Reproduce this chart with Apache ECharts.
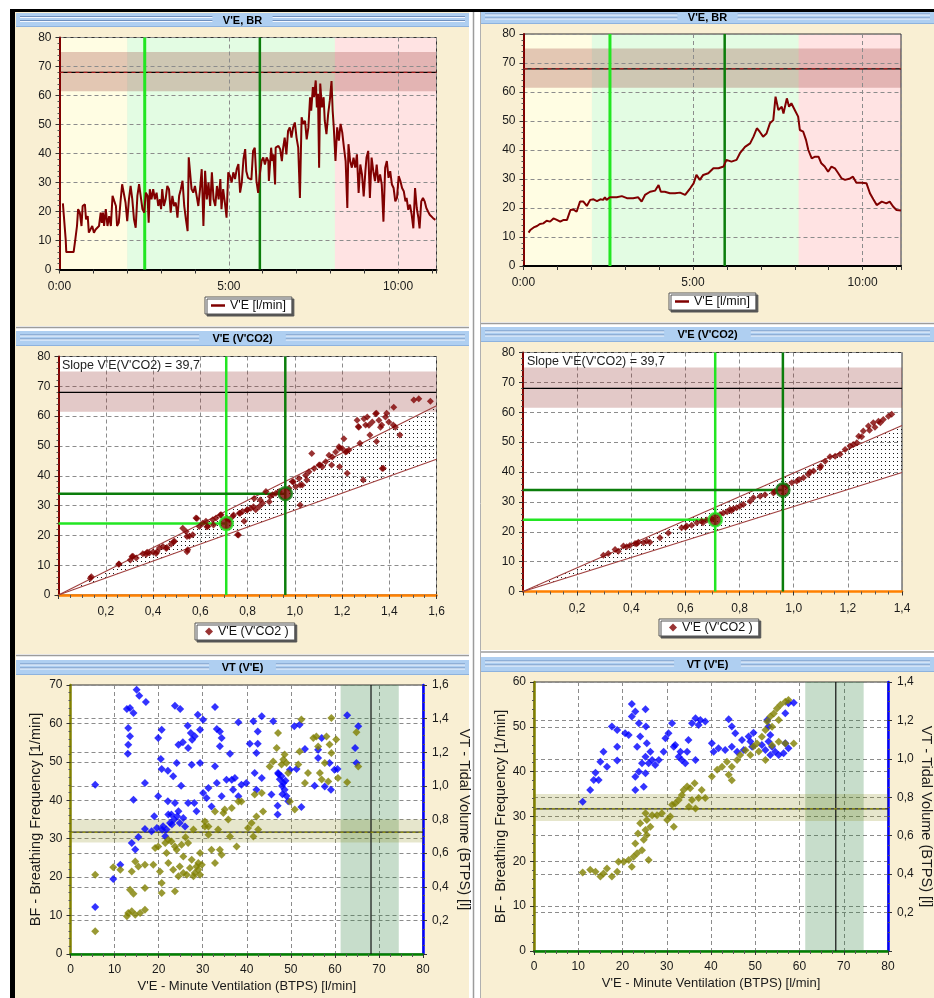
<!DOCTYPE html>
<html><head><meta charset="utf-8">
<script src="https://cdn.jsdelivr.net/npm/echarts/dist/echarts.min.js"></script>
<style>html,body{margin:0;padding:0;background:#fff}#c{width:934px;height:998px}</style>
</head><body><div id="c"></div>
<script>
// ================= DATA =================
// Panel 1: V'E over time (seconds)
const veTimeL = [[6,22.8],[11,10.3],[12,6.0],[25,6.0],[28,10.3],[31,15.0],[33,20.8],[36,19.6],[39,15.0],[41,21.9],[45,22.5],[47,17.3],[50,18.4],[52,12.7],[55,13.2],[58,15.0],[61,12.7],[64,13.8],[67,13.2],[70,15.0],[73,19.6],[75,16.1],[77,19.6],[79,15.0],[82,20.8],[85,15.0],[88,18.4],[91,15.0],[94,25.4],[97,26.0],[100,21.9],[102,15.0],[105,16.1],[108,23.1],[111,29.4],[114,28.8],[117,23.1],[120,16.7],[123,24.2],[126,28.8],[129,24.2],[132,17.3],[135,14.4],[138,25.4],[141,29.4],[144,28.8],[147,20.8],[150,19.6],[153,26.5],[156,25.4],[158,16.1],[160,27.7],[163,24.2],[166,27.7],[169,24.2],[172,26.5],[175,21.9],[178,24.2],[180,20.8],[182,27.7],[185,21.9],[188,24.2],[191,28.8],[194,27.7],[197,19.6],[200,25.4],[203,21.9],[206,23.1],[209,17.9],[212,25.4],[215,27.7],[218,30.6],[221,21.9],[224,17.3],[227,13.2],[229,38.7],[232,38.1],[234,27.7],[237,26.5],[240,28.8],[243,25.4],[246,21.9],[249,27.7],[252,34.6],[255,15.0],[258,34.0],[261,24.2],[264,30.0],[267,21.9],[270,33.5],[273,24.2],[276,21.9],[279,28.8],[282,24.2],[285,31.2],[287,20.8],[290,27.7],[293,23.1],[296,17.9],[299,33.5],[302,32.3],[305,30.0],[308,33.5],[311,31.2],[314,34.6],[317,36.4],[320,26.5],[323,30.0],[326,38.1],[329,41.5],
[331,33.9],[334,31.6],[337,32.2],[340,31.0],[343,40.9],[346,42.0],[349,30.5],[352,26.4],[355,32.8],[358,37.4],[361,38.6],[364,36.2],[367,38.6],[370,37.4],[371,30.5],[375,42.0],[377,37.4],[379,39.7],[382,29.3],[383,42.0],[388,42.6],[391,41.5],[394,37.4],[396,41.5],[399,45.5],[402,39.7],[405,47.8],[408,49.0],[411,45.5],[414,49.0],[417,50.7],[420,45.5],[423,42.0],[426,24.7],[429,52.5],[432,50.2],[435,51.3],[438,44.9],[441,49.0],[444,59.4],[446,54.8],[449,62.9],[451,59.4],[454,65.2],[456,55.9],[458,60.6],[460,35.1],[462,64.1],[465,55.9],[468,59.4],[470,51.3],[473,46.7],[476,53.6],[479,58.3],[482,65.0],[484,54.8],[486,49.0],[489,37.4],[492,49.0],[495,44.4],[498,50.2],[501,47.3],[504,42.0],[507,37.4],[510,21.2],[512,43.2],[515,37.4],[518,35.1],[521,38.6],[524,35.1],[527,39.7],[530,26.4],[533,36.2],[536,32.8],[539,25.2],[542,33.9],[544,38.6],[547,40.9],[550,24.7],[553,38.6],[556,33.9],[559,30.5],[562,36.2],[565,29.9],[568,32.8],[571,29.3],[574,16.5],[577,35.1],[580,37.4],[583,31.6],[586,33.9],[589,29.3],[592,28.1],[595,23.5],[598,24.7],[601,32.2],[604,30.5],[607,28.1],[610,27.0],[613,23.5],[615,24.7],[618,20.6],[621,22.4],[624,18.9],[627,14.2],[630,28.1],[633,21.2],[636,17.7],[638,14.2],[641,23.5],[644,24.7],[647,23.5],[650,21.2],[653,20.0],[656,18.9],[659,18.3],[662,17.7],[666,17.1]];
const veTimeR = [[9,11.5],[12,12.4],[18,13.3],[24,13.8],[29,14.5],[35,14.7],[41,15.6],[47,15.3],[53,16.4],[59,15.9],[65,15.3],[71,15.9],[77,15.9],[83,19.3],[88,19.5],[94,18.7],[100,22.2],[106,22.2],[112,20.7],[118,22.8],[124,23.0],[130,22.4],[136,23.0],[141,22.8],[144,23.7],[147,22.8],[153,23.7],[165,23.7],[174,24.1],[183,23.4],[194,23.4],[203,23.7],[209,22.2],[215,24.5],[224,25.6],[233,26.0],[239,27.9],[243,25.6],[250,25.6],[259,25.1],[268,25.1],[277,25.3],[286,24.5],[295,26.8],[301,28.5],[306,31.4],[312,29.7],[318,31.4],[327,32.0],[336,33.7],[345,33.7],[354,34.3],[359,36.6],[368,36.0],[377,36.6],[383,38.9],[392,41.1],[401,42.3],[407,44.6],[413,47.5],[418,46.3],[424,44.6],[430,45.7],[436,49.2],[442,50.3],[446,58.4],[451,53.8],[457,54.9],[460,52.6],[466,57.8],[470,54.9],[474,56.1],[480,53.8],[486,51.5],[489,46.9],[495,46.3],[500,43.4],[504,40.0],[510,37.1],[516,37.7],[522,37.7],[527,35.4],[533,34.3],[539,32.5],[545,34.3],[551,33.7],[557,32.0],[563,30.2],[569,29.7],[578,30.2],[583,30.8],[589,28.7],[598,28.7],[607,28.5],[613,25.1],[619,23.0],[625,21.0],[634,22.2],[642,21.6],[648,22.2],[654,20.5],[660,19.3],[668,19.1]];
const timeMax = 668;
const timeTicks = 300;
const veMin = 0, veMax = 80;
const zonesL = [[0,120],[120,488],[488,668]];
const zonesR = [[0,121],[121,487],[487,668]];
const zoneColors = ['#FFFDE3','#E3FCE3','#FFE3E3'];
const vtTimesL = [151, 355];
const vtTimesR = [153, 356];
const veBand = [61.5, 75];
const veRef = 68;

// Panel 2: V'E vs V'CO2
const slopeText = "Slope V'E(V'CO2) = 39,7";
const veVco2L = [[0.139,6.1],[0.135,5.6],[0.256,10.4],[0.255,10.3],[0.304,11.7],[0.311,12.9],[0.315,13.0],[0.329,12.4],[0.357,13.8],[0.371,13.6],[0.375,14.3],[0.385,14.1],[0.400,14.4],[0.413,13.9],[0.417,14.5],[0.427,15.8],[0.442,16.3],[0.456,15.6],[0.459,15.9],[0.477,17.1],[0.487,17.9],[0.491,18.0],[0.526,22.4],[0.540,21.3],[0.544,19.6],[0.544,14.5],[0.547,15.2],[0.554,19.7],[0.568,20.2],[0.582,25.8],[0.586,25.7],[0.596,23.0],[0.610,24.1],[0.624,24.7],[0.628,22.9],[0.632,23.0],[0.653,25.2],[0.656,23.5],[0.667,25.8],[0.685,26.8],[0.688,26.9],[0.713,25.7],[0.723,25.2],[0.737,26.3],[0.741,26.8],[0.758,20.2],[0.762,20.1],[0.765,27.4],[0.769,27.4],[0.779,28.0],[0.786,24.7],[0.797,28.5],[0.800,28.6],[0.814,29.1],[0.825,29.6],[0.828,32.4],[0.835,28.6],[0.850,29.7],[0.854,31.9],[0.864,30.8],[0.878,34.7],[0.892,31.3],[0.896,33.0],[0.906,33.6],[0.920,34.1],[0.934,34.7],[0.976,35.8],[0.990,38.0],[0.994,38.0],[1.004,36.3],[1.018,39.1],[1.023,36.9],[1.023,30.2],[1.032,36.9],[1.046,40.2],[1.051,38.6],[1.060,41.3],[1.072,47.5],[1.082,42.4],[1.103,43.6],[1.107,43.6],[1.117,43.0],[1.131,44.7],[1.145,46.9],[1.156,43.6],[1.159,46.3],[1.173,48.0],[1.187,49.7],[1.190,43.0],[1.190,49.2],[1.201,49.1],[1.208,52.4],[1.215,48.0],[1.220,48.1],[1.222,40.8],[1.229,48.6],[1.264,58.6],[1.269,56.5],[1.271,56.3],[1.276,50.9],[1.290,38.6],[1.293,59.1],[1.300,57.0],[1.307,59.7],[1.314,56.9],[1.318,53.7],[1.328,58.0],[1.342,60.8],[1.346,51.5],[1.346,61.0],[1.356,58.6],[1.363,56.3],[1.368,57.0],[1.370,42.4],[1.375,42.5],[1.384,59.7],[1.389,61.0],[1.398,58.0],[1.417,57.0],[1.419,63.0],[1.426,56.3],[1.445,53.7],[1.504,65.4],[1.525,65.8],[1.574,65.0]];
const veVco2R = [[0.297,12.1],[0.315,12.7],[0.340,14.1],[0.352,13.5],[0.371,15.2],[0.383,15.0],[0.395,15.4],[0.414,16.1],[0.420,16.0],[0.426,16.5],[0.445,16.3],[0.457,16.9],[0.469,16.5],[0.506,18.0],[0.537,19.6],[0.586,21.3],[0.600,21.5],[0.605,21.9],[0.623,22.2],[0.642,23.0],[0.660,23.5],[0.665,23.0],[0.679,23.9],[0.697,24.3],[0.728,25.8],[0.740,26.3],[0.754,26.7],[0.765,27.5],[0.770,27.0],[0.777,27.7],[0.789,28.0],[0.802,28.6],[0.814,29.1],[0.839,30.2],[0.851,31.4],[0.876,31.9],[0.894,32.4],[0.925,33.0],[0.930,33.5],[0.974,35.3],[0.993,36.4],[1.011,36.9],[1.020,37.5],[1.036,38.1],[1.054,39.2],[1.060,40.0],[1.073,40.3],[1.097,41.4],[1.100,42.0],[1.116,43.6],[1.134,45.1],[1.153,45.3],[1.171,45.9],[1.190,47.5],[1.208,48.7],[1.220,49.2],[1.233,49.8],[1.240,52.0],[1.251,51.8],[1.257,53.7],[1.276,55.4],[1.280,54.0],[1.294,56.5],[1.300,55.0],[1.313,57.0],[1.320,56.5],[1.331,57.6],[1.350,58.7],[1.362,59.3]];
const vco2MaxL = 1.6, vco2MaxR = 1.4;
const upperLineL = [[0,0],[1.6,63.5]];
const lowerLineL = [[0,0],[1.6,45.5]];
const upperLineR = [[0,0],[1.4,55.6]];
const lowerLineR = [[0,0],[1.4,39.8]];
const thresholdsL = [[0.71,24],[0.96,34]];
const thresholdsR = [[0.71,24],[0.96,34]];

// Panel 3: BF and VT vs V'E
const bfL = [[5.6,20.6],[5.6,5.9],[9.7,22.6],[11.3,21.9],[12.8,9.8],[13.1,10.7],[13.9,11.1],[14.7,10.2],[15.8,10.7],[16.9,11.5],[13.5,16.7],[14.3,15.7],[13.9,21.5],[14.7,24.1],[15.4,22.8],[16.9,23.2],[16.9,17.2],[18.8,23.2],[19.2,27.6],[19.9,28.0],[20.3,21.5],[20.7,18.5],[20.7,15.9],[21.5,28.9],[21.8,26.3],[22.2,23.7],[22.2,29.7],[22.9,29.3],[23.3,21.9],[23.7,16.3],[23.7,28.0],[24.1,27.1],[24.5,20.2],[24.8,22.8],[25.2,28.4],[25.6,25.4],[25.6,21.1],[26.1,30.4],[26.4,20.6],[26.7,28.9],[27.1,22.4],[27.5,24.5],[27.9,32.4],[27.9,20.2],[28.2,21.1],[28.6,22.8],[29.0,21.9],[29.0,23.7],[29.4,26.3],[29.4,20.6],[29.8,23.2],[30.5,33.2],[30.5,34.5],[31.3,31.0],[31.3,33.2],[32.0,27.1],[32.8,23.7],[32.8,37.1],[33.5,32.4],[33.9,27.1],[34.3,25.8],[34.7,36.7],[35.0,37.6],[35.8,35.0],[36.6,38.0],[36.2,30.6],[37.7,28.0],[38.1,39.7],[38.8,39.7],[40.3,32.8],[41.1,34.1],[41.5,30.6],[41.8,41.5],[42.2,35.8],[42.6,32.4],[43.4,41.9],[43.7,37.1],[45.2,48.8],[46.0,50.1],[46.8,53.6],[47.1,57.5],[47.9,49.3],[48.3,50.6],[48.6,51.9],[49.0,49.7],[49.4,47.1],[49.8,39.7],[50.9,37.6],[51.7,49.3],[52.4,61.0],[52.0,52.7],[53.2,44.5],[53.9,47.1],[55.1,56.2],[55.8,56.6],[56.2,54.0],[56.6,47.1],[57.0,45.4],[57.7,49.7],[58.1,56.6],[58.5,44.9],[58.8,54.5],[59.2,61.4],[59.2,52.3],[60.3,55.8],[60.7,45.8],[62.8,44.7],[64.9,57.7],[65.3,48.8]];
const vtL = [[5.6,1.007],[5.6,0.28],[9.7,0.446],[11.3,0.531],[12.8,1.457],[13.5,1.463],[14.3,1.433],[13.1,1.344],[13.5,1.295],[13.1,1.245],[13.0,1.191],[15.0,1.572],[15.6,1.536],[17.1,1.499],[16.9,1.017],[14.3,0.918],[13.9,0.66],[14.7,0.621],[15.4,0.696],[19.0,0.819],[16.9,0.743],[18.4,0.73],[19.6,0.749],[19.9,1.285],[20.7,1.334],[20.5,1.16],[20.7,1.1],[22.1,1.09],[23.3,1.057],[19.9,0.938],[22.1,0.908],[20.8,0.739],[21.0,0.76],[21.5,0.7],[21.8,0.74],[22.2,0.829],[22.6,0.779],[22.9,0.829],[23.0,0.77],[23.5,0.8],[24.2,0.82],[23.7,1.477],[24.9,1.457],[24.5,1.245],[25.5,1.259],[24.1,1.136],[25.1,1.001],[23.7,0.898],[24.5,0.849],[25.6,0.809],[24.8,0.779],[26.0,0.759],[26.6,1.358],[26.7,1.225],[27.3,1.314],[27.6,1.275],[28.2,1.295],[28.9,1.423],[29.4,1.334],[30.1,1.394],[27.5,1.126],[29.4,1.136],[26.7,0.898],[28.1,0.898],[28.6,0.849],[30.1,0.958],[31.3,0.987],[30.9,0.928],[32.0,0.878],[32.8,1.469],[33.2,1.338],[33.9,1.324],[34.3,1.285],[33.9,1.235],[32.8,1.116],[33.2,1.017],[34.3,0.938],[35.4,1.037],[36.2,1.191],[36.6,1.037],[37.3,1.047],[38.1,1.378],[36.9,0.977],[38.1,0.938],[38.8,1.007],[39.9,1.017],[40.7,1.251],[41.5,1.384],[41.8,1.077],[42.2,1.195],[42.5,1.251],[42.5,1.324],[43.4,1.414],[42.2,0.977],[43.4,1.047],[45.6,0.948],[46.0,1.384],[47.1,1.077],[47.2,1.07],[47.5,1.04],[47.0,0.882],[47.0,0.829],[47.9,1.057],[48.0,1.0],[48.1,0.95],[48.3,1.017],[48.6,0.977],[48.8,1.03],[49.0,0.94],[49.4,0.908],[49.8,1.096],[50.8,1.354],[51.3,1.1],[52.0,1.364],[52.4,0.874],[53.2,1.219],[55.4,1.001],[56.2,1.166],[56.2,1.215],[57.0,1.285],[57.7,0.997],[58.8,1.136],[59.1,0.977],[59.9,1.096],[60.6,1.1],[62.8,1.42],[64.6,1.225],[64.9,1.136],[65.3,1.354]];
const bfR = [[11.0,17.5],[12.7,18.1],[13.9,17.7],[15.0,16.6],[15.7,17.3],[16.5,18.4],[17.6,16.6],[18.8,17.7],[19.1,19.9],[20.3,19.9],[21.4,20.3],[22.1,18.8],[22.5,21.0],[23.3,21.8],[22.9,24.0],[23.5,26.2],[24.0,28.5],[24.4,22.5],[24.8,24.8],[25.2,27.0],[25.5,29.2],[25.2,30.7],[25.9,20.3],[25.5,25.9],[26.3,27.7],[26.7,30.3],[27.8,30.3],[28.9,30.7],[30.1,29.2],[30.8,30.0],[31.6,27.7],[31.2,32.6],[31.9,32.9],[32.7,33.7],[33.4,34.8],[33.8,35.9],[34.6,36.7],[35.3,36.3],[36.3,37.4],[35.7,33.7],[35.0,32.2],[36.5,31.8],[37.2,34.1],[37.9,35.9],[38.7,34.1],[40.2,38.9],[41.4,40.4],[42.5,41.1],[43.6,42.2],[44.0,39.3],[44.7,38.1],[44.7,41.1],[45.9,42.6],[46.6,43.7],[47.8,44.8],[48.9,43.7],[49.6,45.6],[50.4,46.3],[51.5,47.8],[52.3,49.3],[52.7,51.2],[53.4,52.3],[54.2,53.0],[54.9,54.1],[55.7,54.9],[56.8,55.6],[57.5,56.0],[53.8,45.9],[55.3,46.7],[56.8,46.3],[58.7,46.3],[52.3,42.6],[50.8,44.5],[53.8,50.0],[55.3,51.5]];
const vtR = [[11.0,0.777],[12.7,0.838],[13.5,0.89],[14.6,0.89],[13.9,0.928],[15.0,0.985],[15.7,1.037],[16.5,0.959],[17.6,1.168],[18.8,1.15],[18.8,1.063],[18.8,0.991],[20.6,1.133],[21.4,1.124],[22.1,1.286],[22.1,1.22],[22.9,1.246],[23.7,1.185],[24.0,1.116],[23.3,1.063],[22.9,0.907],[22.9,0.838],[23.7,0.933],[24.4,0.977],[25.2,1.258],[25.3,1.168],[25.5,1.081],[25.2,1.011],[25.2,0.925],[24.8,0.855],[25.9,0.977],[26.3,1.037],[26.7,0.994],[27.4,0.968],[28.2,0.994],[29.3,1.037],[29.7,1.107],[30.4,1.133],[31.2,1.185],[31.6,1.063],[31.9,1.072],[32.7,1.011],[33.1,1.037],[33.4,0.994],[34.2,0.977],[34.6,1.037],[34.9,1.098],[35.7,1.185],[36.5,1.211],[36.5,0.994],[37.2,1.176],[37.6,1.202],[38.7,1.194],[40.2,1.081],[40.6,1.037],[41.7,1.055],[43.2,1.046],[44.0,1.206],[44.7,1.168],[44.7,1.063],[45.5,1.133],[45.9,1.037],[47.0,1.098],[47.4,1.046],[48.5,1.116],[48.9,1.09],[49.3,1.063],[49.6,1.136],[51.5,1.072],[52.3,1.046],[53.0,1.09],[53.4,1.124],[53.4,1.02],[53.8,1.063],[54.5,1.037],[55.3,1.02],[56.4,1.029],[56.8,1.237],[57.5,1.289],[58.7,1.292],[57.5,1.055],[56.8,1.081],[52.7,1.202],[53.0,1.168]];
const veMaxBottom = 80;
const bfMaxL = 70, bfMaxR = 60;
const vtMaxL = 1.6, vtMaxR = 1.4;
const veBandBottom = [61.3, 74.5];
const veRefBottom = 68.2;
const bfBand = [29, 35];
const bfRef = 31.7;

const titles = ["V'E, BR", "V'E (V'CO2)", "VT (V'E)"];
const legendLine = "V'E [l/min]";
const legendScatter = "V'E (V'CO2 )";
const xNameBottom = "V'E - Minute Ventilation (BTPS) [l/min]";
const yNameBF = "BF - Breathing Frequency [1/min]";
const yNameVT = "VT - Tidal Volume (BTPS) [l]";

// ================= STYLE / LAYOUT =================
const FONT = 'Liberation Sans';
const BEIGE = '#F9EFD3';
const DARKRED = '#800000';
const BRIGHTGREEN = '#22E622';
const DARKGREEN = '#0B7D0B';
const OLIVE = '#808000';
const BLUE = '#0000FF';
const G = [
  {left:59.5, top:37.5, width:377, height:232},
  {left:523.5, top:34, width:377.5, height:232},
  {left:58.5, top:356.5, width:378, height:238.5},
  {left:523, top:352.5, width:379, height:239},
  {left:70.5, top:685, width:352.5, height:269},
  {left:534, top:682, width:354, height:269}
];
const split = {show:true, lineStyle:{color:'#8c8c8c', width:1, type:[4,3]}};
const lbl = (extra) => Object.assign({color:'#1a1a1a', fontSize:12, fontFamily:FONT}, extra||{});
const comma = v => v === 0 ? '0' : v.toFixed(1).replace('.', ',');
const mmss = v => Math.floor(v/60) + ':' + ('0' + Math.round(v % 60)).slice(-2);

// dot pattern for slope area
const pc = document.createElement('canvas'); pc.width = 4; pc.height = 4;
const pctx = pc.getContext('2d'); pctx.fillStyle = '#1a1a1a'; pctx.fillRect(1,1,1,1);
const dotPattern = {image: pc, repeat: 'repeat'};

// ================= HELPERS =================
function rectSeries(xi, yi, rects, colors, z) {
  return {type:'custom', xAxisIndex:xi, yAxisIndex:yi, z:z, silent:true, data:rects,
    encode:{x:[0,1], y:[2,3]},
    renderItem:(params, api) => {
      const a = api.coord([api.value(0), api.value(3)]);
      const b = api.coord([api.value(1), api.value(2)]);
      return {type:'rect', shape:{x:a[0], y:a[1], width:b[0]-a[0], height:b[1]-a[1]},
        style:{fill: colors[params.dataIndex % colors.length]}};
    }};
}
function seg(xi, yi, pts, color, width, z, type) {
  return {type:'line', xAxisIndex:xi, yAxisIndex:yi, data:pts, symbol:'none', silent:true, z:z,
    lineStyle:{color:color, width:width, type:type||'solid'}, itemStyle:{color:color}};
}
function polySeries(xi, yi, verts, fill, z) {
  return {type:'custom', xAxisIndex:xi, yAxisIndex:yi, z:z, silent:true, data:verts,
    renderItem:(params, api) => {
      if (params.dataIndex !== 0) return null;
      return {type:'polygon', shape:{points: verts.map(v => api.coord(v))}, style:{fill: fill}};
    }};
}

// ================= AXES =================
const xAxis = [];
const yAxis = [];
function timeX(gi) {
  xAxis.push({gridIndex:gi, type:'value', min:0, max:timeMax, interval:timeTicks,
    axisLine:{show:true, onZero:false, lineStyle:{color:'#000', width:2}},
    axisTick:{show:true, length:4, lineStyle:{color:'#333'}},
    minorTick:{show:true, splitNumber:5, length:4, lineStyle:{color:'#333'}},
    axisLabel:lbl({formatter:mmss, margin:11, showMaxLabel:false}), splitLine:split});
}
function veY(gi) {
  yAxis.push({gridIndex:gi, type:'value', min:veMin, max:veMax, interval:10,
    axisLine:{show:true, onZero:false, lineStyle:{color:DARKRED, width:2}},
    axisTick:{show:true, length:4, lineStyle:{color:'#333'}},
    minorTick:{show:true, splitNumber:5, length:2, lineStyle:{color:'#555'}},
    axisLabel:lbl({margin:8}), splitLine:split});
}
function vco2X(gi, max) {
  xAxis.push({gridIndex:gi, type:'value', min:0, max:max, interval:0.2,
    axisLine:{show:true, onZero:false, lineStyle:{color:'#FF8000', width:2.5}},
    axisTick:{show:true, length:4, lineStyle:{color:'#333'}},
    minorTick:{show:true, splitNumber:4, length:3, lineStyle:{color:'#555'}},
    axisLabel:lbl({formatter:comma, margin:11, showMinLabel:false}), splitLine:split});
}
function veX(gi) {
  xAxis.push({gridIndex:gi, type:'value', min:0, max:veMaxBottom, interval:10,
    name:xNameBottom, nameLocation:'middle', nameGap:26,
    nameTextStyle:{fontFamily:FONT, fontSize:13, color:'#1a1a1a'},
    axisLine:{show:true, onZero:false, lineStyle:{color:'#008000', width:2.5}},
    axisTick:{show:true, length:4, lineStyle:{color:'#333'}},
    minorTick:{show:true, splitNumber:4, length:3, lineStyle:{color:'#555'}},
    axisLabel:lbl({margin:10}), splitLine:split});
}
function bfY(gi, max, gap) {
  yAxis.push({gridIndex:gi, type:'value', min:0, max:max, interval:10, position:'left',
    name:yNameBF, nameLocation:'middle', nameGap:gap, nameRotate:90,
    nameTextStyle:{fontFamily:FONT, fontSize:14.5, color:'#1a1a1a'},
    axisLine:{show:true, onZero:false, lineStyle:{color:OLIVE, width:2.5}},
    axisTick:{show:true, length:4, lineStyle:{color:'#333'}},
    minorTick:{show:true, splitNumber:5, length:2, lineStyle:{color:'#555'}},
    axisLabel:lbl({margin:8}), splitLine:split});
}
function vtY(gi, max, gap) {
  yAxis.push({gridIndex:gi, type:'value', min:0, max:max, interval:0.2, position:'right',
    name:yNameVT, nameLocation:'middle', nameGap:gap, nameRotate:-90,
    nameTextStyle:{fontFamily:FONT, fontSize:14.5, color:'#1a1a1a'},
    axisLine:{show:true, onZero:false, lineStyle:{color:BLUE, width:2.5}},
    axisTick:{show:true, length:4, lineStyle:{color:'#333'}},
    minorTick:{show:true, splitNumber:4, length:2, lineStyle:{color:'#555'}},
    axisLabel:lbl({formatter:comma, margin:9, showMinLabel:false}), splitLine:split});
}
timeX(0); timeX(1); vco2X(2, vco2MaxL); vco2X(3, vco2MaxR); veX(4); veX(5);
veY(0); veY(1); veY(2); veY(3);
bfY(4, bfMaxL, 27); vtY(4, vtMaxL, 33); bfY(5, bfMaxR, 26); vtY(5, vtMaxR, 30);

// ================= SERIES =================
const series = [];
// Top panels
[[0, veTimeL, zonesL, vtTimesL], [1, veTimeR, zonesR, vtTimesR]].forEach(([i, data, zones, vts]) => {
  series.push(rectSeries(i, i, zones.map(z => [z[0], z[1], veMin, veMax]), zoneColors, -2));
  series.push(rectSeries(i, i, [[0, timeMax, veBand[0], veBand[1]]], ['rgba(145,40,36,0.25)'], -1));
  series.push(seg(i, i, [[0, veRef], [timeMax, veRef]], '#000', 1.3, 1));
  series.push(seg(i, i, [[0, veRef], [timeMax, veRef]], '#cc2222', 1, 1, [4,4]));
  series.push(seg(i, i, [[vts[0], veMin], [vts[0], veMax]], BRIGHTGREEN, 3, 1));
  series.push(seg(i, i, [[vts[1], veMin], [vts[1], veMax]], DARKGREEN, 2.5, 1));
  series.push({type:'line', name:legendLine, xAxisIndex:i, yAxisIndex:i, data:data, symbol:'none', z:3,
    lineStyle:{color:DARKRED, width:2}, itemStyle:{color:DARKRED}});
});
// Middle panels
[[2, veVco2L, upperLineL, lowerLineL, thresholdsL, vco2MaxL], [3, veVco2R, upperLineR, lowerLineR, thresholdsR, vco2MaxR]].forEach(([i, data, up, lo, th, xmax]) => {
  series.push(rectSeries(i, i, [[0, xmax, veBand[0], veBand[1]]], ['rgba(145,40,36,0.25)'], 1));
  series.push(seg(i, i, [[0, veRef], [xmax, veRef]], '#000', 1.2, 1));
  series.push(polySeries(i, i, [up[0], up[1], lo[1]], dotPattern, 1));
  series.push(seg(i, i, up, '#A0403F', 1.1, 2));
  series.push(seg(i, i, lo, '#A0403F', 1.1, 2));
  const cols = [BRIGHTGREEN, DARKGREEN];
  th.forEach((t, k) => {
    series.push(seg(i, i, [[t[0], veMin], [t[0], veMax]], cols[k], 2.5, 2));
    series.push(seg(i, i, [[0, t[1]], [t[0], t[1]]], cols[k], 2.5, 2));
  });
  series.push({type:'scatter', name:legendScatter, xAxisIndex:i, yAxisIndex:i, data:data, symbol:'diamond', symbolSize:7, z:3,
    itemStyle:{color:DARKRED}});
  series.push({type:'scatter', xAxisIndex:i, yAxisIndex:i, silent:true, z:4, symbol:'circle', symbolSize:13,
    data: th.map((t, k) => ({value:t, itemStyle:{color:DARKRED, borderColor:cols[k], borderWidth:2.5}}))});
});
// Bottom panels
[[4, 4, 5, bfL, vtL, bfMaxL], [5, 6, 7, bfR, vtR, bfMaxR]].forEach(([gi, yl, yr, bf, vt, bfMax]) => {
  series.push(rectSeries(gi, yl, [[veBandBottom[0], veBandBottom[1], 0, bfMax]], ['rgba(40,125,55,0.26)'], 1));
  series.push(rectSeries(gi, yl, [[0, veMaxBottom, bfBand[0], bfBand[1]]], ['rgba(128,128,0,0.2)'], 1));
  series.push(seg(gi, yl, [[veRefBottom, 0], [veRefBottom, bfMax]], '#111', 1.2, 1));
  series.push(seg(gi, yl, [[0, bfRef], [veMaxBottom, bfRef]], '#222', 1.2, 1));
  series.push(seg(gi, yl, [[0, bfRef], [veMaxBottom, bfRef]], '#b0b000', 1, 1, [3,3]));
  series.push({type:'scatter', xAxisIndex:gi, yAxisIndex:yr, data:vt, symbol:'diamond', symbolSize:8, z:3,
    itemStyle:{color:BLUE}});
  series.push({type:'scatter', xAxisIndex:gi, yAxisIndex:yl, data:bf, symbol:'diamond', symbolSize:8, z:3,
    itemStyle:{color:OLIVE}});
});

// ================= DECORATION (panels, title bars) =================
const gfx = [];
function rect(x, y, w, h, fill) { gfx.push({type:'rect', silent:true, shape:{x:x, y:y, width:w, height:h}, style:{fill:fill}}); }
function hl(x1, x2, y, color, w) { gfx.push({type:'line', silent:true, shape:{x1:x1, y1:y, x2:x2, y2:y}, style:{stroke:color, lineWidth:w}}); }
function vl(x, y1, y2, color, w) { gfx.push({type:'line', silent:true, shape:{x1:x, y1:y1, x2:x, y2:y2}, style:{stroke:color, lineWidth:w}}); }
function titleBar(x, y, w, h, text) {
  rect(x, y, w, h, '#AFCFF1');
  hl(x, x+w, y+h-0.5, '#8DB2DE', 1);
  const cx = x + w/2, tw = text.length*6.6 + 14;
  [[x+4, cx-tw/2], [cx+tw/2, x+w-4]].forEach(([a, b]) => {
    for (let k = 0; k < 2; k++) {
      hl(a, b, y+h/2-3.5+k*4, '#6F8FBD', 1);
      hl(a, b, y+h/2-2.5+k*4, '#F4F8FF', 1);
    }
  });
  gfx.push({type:'text', silent:true, x:cx, y:y+h/2+0.5,
    style:{text:text, font:'bold 11px ' + FONT, fill:'#000', align:'center', verticalAlign:'middle', textAlign:'center', textVerticalAlign:'middle'}});
}
// white outer areas / separators
rect(0, 0, 934, 9, '#fff');
rect(0, 0, 10, 998, '#fff');
rect(469, 9, 12, 989, '#fff');
vl(473.5, 9, 998, '#9c9c9c', 1.5);
vl(480.5, 9, 998, '#b0b0b0', 1);
rect(16, 326, 453, 5, '#fff'); hl(16, 469, 327.5, '#9c9c9c', 1.5);
rect(16, 654, 453, 6, '#fff'); hl(16, 469, 655.5, '#9c9c9c', 1.5);
rect(481, 322, 453, 5, '#fff'); hl(481, 934, 323.5, '#9c9c9c', 1.5);
rect(481, 650, 453, 7, '#fff'); hl(481, 934, 652, '#9c9c9c', 1.5);
titleBar(16, 13, 453, 14, titles[0]);
titleBar(16, 331, 453, 15, titles[1]);
titleBar(16, 660, 453, 15, titles[2]);
titleBar(481, 11, 453, 13, titles[0]);
titleBar(481, 327, 453, 15, titles[1]);
titleBar(481, 657, 453, 15, titles[2]);
// black frame
rect(10, 9, 924, 3, '#000');
rect(10, 9, 5, 989, '#000');
// slope labels
gfx.push({type:'text', silent:true, left:62, top:359, z:10, style:{text:slopeText, font:'12.5px ' + FONT, fill:'#222'}});
gfx.push({type:'text', silent:true, left:527, top:355, z:10, style:{text:slopeText, font:'12.5px ' + FONT, fill:'#222'}});

const legendCommon = {orient:'horizontal', backgroundColor:'#fff', borderColor:'#555', borderWidth:1,
  padding:[2,6], itemGap:4, selectedMode:false,
  shadowColor:'#555', shadowOffsetX:2, shadowOffsetY:2, shadowBlur:0,
  textStyle:{fontFamily:FONT, fontSize:12.5, color:'#111'}};

const option = {
  backgroundColor: BEIGE,
  animation: false,
  textStyle: {fontFamily: FONT},
  grid: G.map((g, i) => Object.assign({show:true, containLabel:false, outerBoundsMode:'none',
    backgroundColor: i < 2 ? 'transparent' : '#fff', borderColor:'#333', borderWidth:1}, g)),
  xAxis: xAxis,
  yAxis: yAxis,
  legend: [
    Object.assign({}, legendCommon, {data:[{name:legendLine, icon:'rect'}], left:205, top:297, itemWidth:14, itemHeight:2.5}),
    Object.assign({}, legendCommon, {data:[{name:legendLine, icon:'rect'}], left:669, top:293, itemWidth:14, itemHeight:2.5}),
    Object.assign({}, legendCommon, {data:[{name:legendScatter, icon:'diamond'}], left:195, top:623, itemWidth:8, itemHeight:8, padding:[2,6,2,10], itemGap:10}),
    Object.assign({}, legendCommon, {data:[{name:legendScatter, icon:'diamond'}], left:659, top:619, itemWidth:8, itemHeight:8, padding:[2,6,2,10], itemGap:10})
  ],
  graphic: {elements: gfx},
  series: series
};
const chart = echarts.init(document.getElementById('c'), null, {renderer:'canvas', width:934, height:998});
chart.setOption(option);
</script></body></html>
